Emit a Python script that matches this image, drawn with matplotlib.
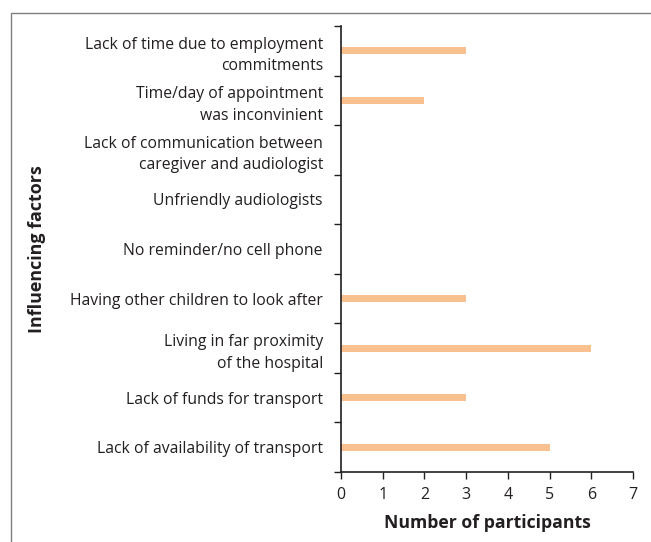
import matplotlib
matplotlib.use("Agg")
import matplotlib.pyplot as plt
from matplotlib.patches import Rectangle

categories = [
    "Lack of availability of transport",
    "Lack of funds for transport",
    "Living in far proximity\nof the hospital",
    "Having other children to look after",
    "No reminder/no cell phone",
    "Unfriendly audiologists",
    "Lack of communication between\ncaregiver and audiologist",
    "Time/day of appointment\nwas inconvinient",
    "Lack of time due to employment\ncommitments",
]
participants = [5, 3, 6, 3, 0, 0, 0, 2, 3]
x_ticks = [0, 1, 2, 3, 4, 5, 6, 7]

plt.rcParams['font.family'] = ['Open Sans', 'DejaVu Sans']
text_color = '#231F20'

fig = plt.figure(figsize=(6.51, 5.42), dpi=100)
ax = fig.add_axes([341/651, 1 - 472/542, (633 - 341)/651, (472 - 26)/542])

pos = list(range(len(categories)))
ax.barh(pos, participants, height=0.14, color='#F9C18F')

ax.set_xlim(0, 7)
ax.set_ylim(-0.5, len(categories) - 0.5)
ax.set_xticks(x_ticks)
ax.set_xticklabels([str(t) for t in x_ticks], fontsize=11.5, color=text_color)

ax.set_yticks(pos)
ax.set_yticklabels(categories, fontsize=11.3, color=text_color, ha='right',
                   multialignment='right', linespacing=1.45)
ax.set_yticks([p - 0.5 for p in pos] + [len(categories) - 0.5], minor=True)
ax.tick_params(axis='y', which='major', length=0, pad=13)
ax.tick_params(axis='y', which='minor', length=5, width=1, color=text_color)
ax.tick_params(axis='x', which='major', length=5, width=1, color=text_color, pad=6)

for s in ['top', 'right']:
    ax.spines[s].set_visible(False)
for s in ['left', 'bottom']:
    ax.spines[s].set_color(text_color)
    ax.spines[s].set_linewidth(1.2)

ax.set_xlabel("Number of participants", fontsize=12.7, fontweight='bold', color=text_color, labelpad=8)
fig.text(37/651, 1 - 249/542, "Influencing factors", rotation=90, fontsize=12.9, fontweight='bold',
         color=text_color, ha='center', va='center')

frame = Rectangle((11/651, -0.05), 1.0, 1 - 12.5/542 + 0.05, transform=fig.transFigure,
                  fill=False, edgecolor='#7F7F7F', linewidth=1.0, clip_on=False)
fig.patches.append(frame)

fig.savefig("out.png", dpi=100)
